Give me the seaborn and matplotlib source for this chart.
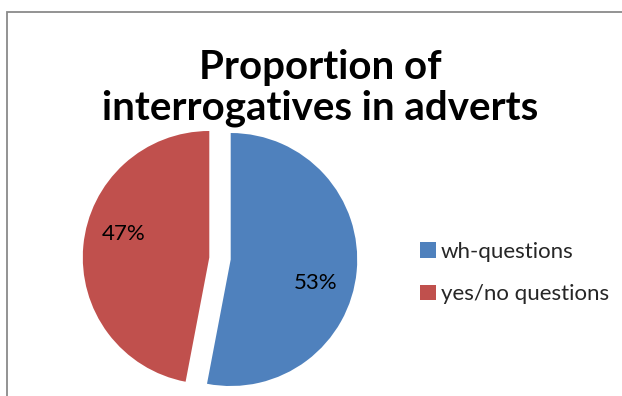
import matplotlib
matplotlib.use("Agg")
import matplotlib.pyplot as plt
from matplotlib.patches import Rectangle
import numpy as np
import seaborn as sns

# Data
categories = ["wh-questions", "yes/no questions"]
shares = [53, 47]
title = "Proportion of\ninterrogatives in adverts"

sns.set_theme(style="white")
plt.rcParams["font.family"] = ["Lato", "DejaVu Sans"]

colors = ["#4F81BD", "#C0504D"]

W, H = 622, 396
fig = plt.figure(figsize=(W / 100, H / 100), dpi=100)
fig.patch.set_facecolor("white")

# Chart area border (open toward right and bottom)
fig.patches.append(Rectangle((7.5 / W, -0.1), 1.2, (H - 11.5) / H + 0.1,
                             transform=fig.transFigure, fill=False,
                             edgecolor="#8a8a8a", linewidth=1.3))

# Pie axes: square pixel box so the pie stays circular
radius_px = 126.5
cx, cy = 220, H - 258.5
half = 135
ax = fig.add_axes([(cx - half) / W, (cy - half) / H, 2 * half / W, 2 * half / H])

wedges, texts, autotexts = ax.pie(
    shares,
    colors=colors,
    startangle=90,
    counterclock=False,
    explode=[0.085, 0.085],
    autopct="%1.0f%%",
    pctdistance=0.7,
    wedgeprops=dict(linewidth=0),
    textprops=dict(fontsize=16, color="black"),
)

# Percentage labels sit a little clockwise of each wedge's bisector
for w, t in zip(wedges, autotexts):
    ang = np.deg2rad((w.theta1 + w.theta2) / 2 - 10)
    x0, y0 = w.center
    t.set_position((x0 + 0.7 * w.r * np.cos(ang), y0 + 0.7 * w.r * np.sin(ang)))

lim = half / radius_px
ax.set_xlim(-lim, lim)
ax.set_ylim(-lim, lim)
ax.axis("off")

fig.text(320 / W, 1 - 88 / H, title, ha="center", va="center",
         fontsize=29, fontweight="bold", linespacing=1.13, color="black")

fig.legend(wedges, categories, loc="center left",
           bbox_to_anchor=(420 / W, 1 - 273 / H), frameon=False,
           borderpad=0, borderaxespad=0,
           fontsize=16, handlelength=0.7, handleheight=0.7,
           handletextpad=0.25, labelspacing=1.0)

fig.savefig("out.png", dpi=100, facecolor="white")
